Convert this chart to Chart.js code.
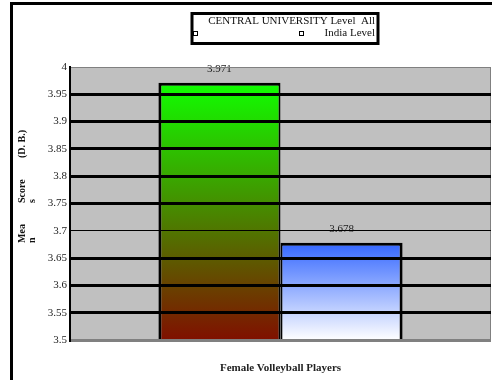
<!DOCTYPE html>
<html>
<head>
<meta charset="utf-8">
<script src="https://cdn.jsdelivr.net/npm/chart.js@4/dist/chart.umd.min.js"></script>
<style>
  html, body { margin: 0; padding: 0; background: #ffffff; }
  canvas { display: block; }
</style>
</head>
<body>
<canvas id="chart" width="492" height="380"></canvas>
<script>
// Categories, series and axis range
const categories = ["Female Volleyball Players"];
const seriesLabels = ["CENTRAL UNIVERSITY Level", "All India Level"];
const centralUniversity = [3.971];
const allIndia = [3.678];
const yMin = 3.5;
const yMax = 4;
const yStep = 0.05;
// Axis title words, broken across two lines as drawn
const yTitleWords = [["Mea", "n"], ["Score", "s"], ["(D. B.)", ""]];

const SERIF = '"Liberation Serif", "Times New Roman", Times, serif';

function barGradient(ctx, topColor, bottomColor) {
  const chart = ctx.chart;
  if (!chart.chartArea || ctx.type !== 'data') return topColor;
  const y = chart.scales.y;
  const top = y.getPixelForValue(ctx.raw);
  const bottom = y.getPixelForValue(yMin);
  const g = chart.ctx.createLinearGradient(0, top, 0, bottom);
  g.addColorStop(0, topColor);
  g.addColorStop(1, bottomColor);
  return g;
}

// Grey plot area with a thin grey outline
const plotBackground = {
  id: 'plotBackground',
  beforeDatasetsDraw(chart) {
    const { ctx, chartArea: a } = chart;
    ctx.save();
    ctx.fillStyle = '#c0c0c0';
    ctx.fillRect(a.left, a.top, a.right - a.left, a.bottom - a.top);
    ctx.strokeStyle = '#808080';
    ctx.lineWidth = 1;
    ctx.beginPath();
    ctx.moveTo(a.left, a.top + 0.5);
    ctx.lineTo(a.right - 0.5, a.top + 0.5);
    ctx.lineTo(a.right - 0.5, a.bottom);
    ctx.stroke();
    ctx.restore();
  }
};

// Value labels above each bar
const valueLabels = {
  id: 'valueLabels',
  afterDatasetsDraw(chart) {
    const ctx = chart.ctx;
    ctx.save();
    ctx.font = '11px ' + SERIF;
    ctx.fillStyle = '#222';
    ctx.textAlign = 'center';
    ctx.textBaseline = 'middle';
    chart.data.datasets.forEach((ds, i) => {
      chart.getDatasetMeta(i).data.forEach((bar, j) => {
        ctx.fillText(ds.data[j].toFixed(3), bar.x, bar.y - 14);
      });
    });
    ctx.restore();
  }
};

// Frame, legend box and rotated axis title
const decorations = {
  id: 'decorations',
  afterDraw(chart) {
    const ctx = chart.ctx;
    ctx.save();
    // outer frame
    ctx.strokeStyle = '#000';
    ctx.lineWidth = 3;
    ctx.strokeRect(11.5, 3.5, 700, 700);

    // legend box
    ctx.lineWidth = 3;
    ctx.strokeRect(192, 13.5, 186, 30);
    ctx.font = '11px ' + SERIF;
    ctx.fillStyle = '#111';
    ctx.textBaseline = 'middle';
    ctx.textAlign = 'right';
    const second = seriesLabels[1].split(' ');
    ctx.fillText(seriesLabels[0] + '  ' + second[0], 375, 21);
    ctx.fillText(second.slice(1).join(' '), 375, 33);
    ctx.lineWidth = 1;
    ctx.strokeStyle = '#000';
    ctx.strokeRect(193.5, 31.5, 4, 4);
    ctx.strokeRect(299.5, 31.5, 4, 4);

    // y axis title
    ctx.font = 'bold 10px ' + SERIF;
    ctx.fillStyle = '#111';
    ctx.textAlign = 'left';
    const starts = [243, 203, 158];
    yTitleWords.forEach((w, i) => {
      ctx.save();
      ctx.translate(22, starts[i]);
      ctx.rotate(-Math.PI / 2);
      ctx.fillText(w[0], 0, 0);
      if (w[1]) ctx.fillText(w[1], 0, 10);
      ctx.restore();
    });
    ctx.restore();
  }
};

new Chart(document.getElementById('chart'), {
  type: 'bar',
  data: {
    labels: categories,
    datasets: [
      {
        label: seriesLabels[0],
        data: centralUniversity,
        backgroundColor: ctx => barGradient(ctx, 'rgb(16,255,0)', 'rgb(128,16,0)'),
        borderColor: '#000',
        borderWidth: { top: 3, left: 3, right: 2, bottom: 0 },
        borderSkipped: 'start'
      },
      {
        label: seriesLabels[1],
        data: allIndia,
        backgroundColor: ctx => barGradient(ctx, 'rgb(51,102,255)', 'rgb(255,255,255)'),
        borderColor: '#000',
        borderWidth: { top: 3, left: 2, right: 3, bottom: 0 },
        borderSkipped: 'start'
      }
    ]
  },
  options: {
    responsive: false,
    animation: false,
    layout: { padding: { top: 67, right: 1, left: 0, bottom: 0 } },
    datasets: { bar: { categoryPercentage: 0.58, barPercentage: 1.0 } },
    plugins: {
      legend: { display: false },
      tooltip: { enabled: false }
    },
    scales: {
      x: {
        grid: { display: false },
        border: { display: false },
        ticks: {
          color: '#222',
          padding: 14,
          font: { family: SERIF, size: 11, weight: 'bold' }
        },
        afterFit: s => { s.height = 40; }
      },
      y: {
        min: yMin,
        max: yMax,
        ticks: {
          stepSize: yStep,
          padding: 3,
          color: '#222',
          font: { family: SERIF, size: 11 },
          callback: v => String(parseFloat(Number(v).toFixed(2)))
        },
        grid: {
          z: 1,
          drawTicks: false,
          color: c => {
            const v = c.tick ? c.tick.value : 0;
            if (Math.abs(v - yMax) < 1e-6 || Math.abs(v - yMin) < 1e-6) return '#808080';
            return '#000';
          },
          lineWidth: c => {
            const v = c.tick ? c.tick.value : 0;
            if (Math.abs(v - yMax) < 1e-6) return 1;
            if (Math.abs(v - yMin) < 1e-6) return 3;
            if (Math.abs(v - 3.7) < 1e-6) return 1;
            return 3;
          }
        },
        border: { color: '#000', width: 2, z: 1 },
        afterFit: s => { s.width = 70; }
      }
    }
  },
  plugins: [plotBackground, valueLabels, decorations]
});
</script>
</body>
</html>
